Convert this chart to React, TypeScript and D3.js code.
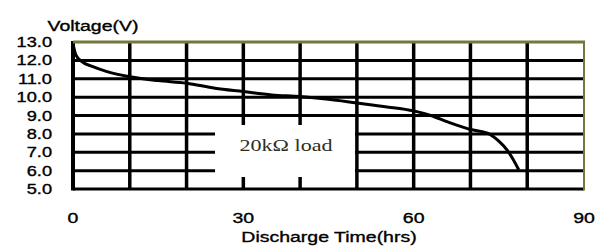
import React from "react";
import * as d3 from "d3";

// discharge curve
const hours = [0, 0.5, 1.5, 3.5, 6, 10, 15, 20, 25, 30, 35, 40, 45, 50, 55, 60, 63, 66, 70, 73, 75, 76.5, 77.5, 78.5];
const volts = [12.9, 12.3, 11.95, 11.66, 11.39, 11.11, 10.9, 10.76, 10.48, 10.3, 10.12, 10.03, 9.88, 9.68, 9.48, 9.25, 9.0, 8.65, 8.24, 8.04, 7.6, 7.1, 6.62, 6.05];

const yTicks = [13, 12, 11, 10, 9, 8, 7, 6, 5];
const xTicks = [0, 30, 60, 90];
const xGrid = [10, 20, 30, 40, 50, 60, 70, 80];

const W = 607;
const H = 248;
const SX = 1.3; // the original picture is stretched sideways

const App = () => {
  const x = d3.scaleLinear().domain([0, 90]).range([73, 584]);
  const y = d3.scaleLinear().domain([5, 13]).range([189, 42]);

  const pts = hours.map((h, i) => [h, volts[i]] as [number, number]);
  const line = d3
    .line<[number, number]>()
    .x((d) => x(d[0]))
    .y((d) => y(d[1]))
    .curve(d3.curveMonotoneX);

  const stretched = (tx: number, ty: number) => `translate(${tx},${ty}) scale(${SX},1)`;
  // blurry scan makes the labels look heavier than plain Arial
  const ink = { fill: "#000", stroke: "#000", strokeWidth: 0.35 };

  return (
    <svg
      width={W}
      height={H}
      style={{ position: "absolute", left: 0, top: 0, background: "#fff" }}
      fontFamily="Liberation Sans, Arial, sans-serif"
    >
      {/* horizontal grid */}
      {yTicks.slice(1, -1).map((v) => (
        <line key={"h" + v} x1={x(0)} x2={x(90)} y1={y(v)} y2={y(v)} stroke="#000" strokeWidth={3} />
      ))}
      {/* vertical grid */}
      {xGrid.map((t) => (
        <line key={"v" + t} x1={x(t)} x2={x(t)} y1={y(13)} y2={y(5)} stroke="#000" strokeWidth={3.5} />
      ))}

      {/* label box covering the grid */}
      <rect x={215} y={125} width={140} height={52} fill="#fff" />
      <text
        transform={stretched(286, 151)}
        textAnchor="middle"
        fontFamily="Liberation Serif, Times New Roman, serif"
        fontSize={17}
        fill="#2e2e1e"
      >
        20kΩ load
      </text>

      {/* discharge curve */}
      <path d={line(pts) ?? ""} fill="none" stroke="#000" strokeWidth={3} />

      {/* frame */}
      <line x1={x(0)} x2={x(0)} y1={y(13) - 1} y2={y(5) + 1.5} stroke="#000" strokeWidth={4} />
      <line x1={x(0)} x2={x(90)} y1={y(5)} y2={y(5)} stroke="#000" strokeWidth={3} />
      <line x1={x(0)} x2={x(90) + 1} y1={y(13)} y2={y(13)} stroke="#76763f" strokeWidth={3} />
      <line x1={x(90)} x2={x(90)} y1={y(13)} y2={y(5) + 1.5} stroke="#76763f" strokeWidth={2} />

      {/* y tick labels */}
      {yTicks.map((v) => (
        <text key={"yl" + v} transform={stretched(52, y(v) + 5)} textAnchor="end" fontSize={14} {...ink}>
          {v.toFixed(1)}
        </text>
      ))}
      <text transform={stretched(93, 31)} textAnchor="middle" fontSize={15} {...ink}>
        Voltage(V)
      </text>

      {/* x tick labels */}
      {xTicks.map((t) => (
        <text key={"xl" + t} transform={stretched(x(t), 223)} textAnchor="middle" fontSize={15} {...ink}>
          {t}
        </text>
      ))}
      <text transform={stretched(329, 242)} textAnchor="middle" fontSize={15} {...ink}>
        Discharge Time(hrs)
      </text>
    </svg>
  );
};

export default App;
